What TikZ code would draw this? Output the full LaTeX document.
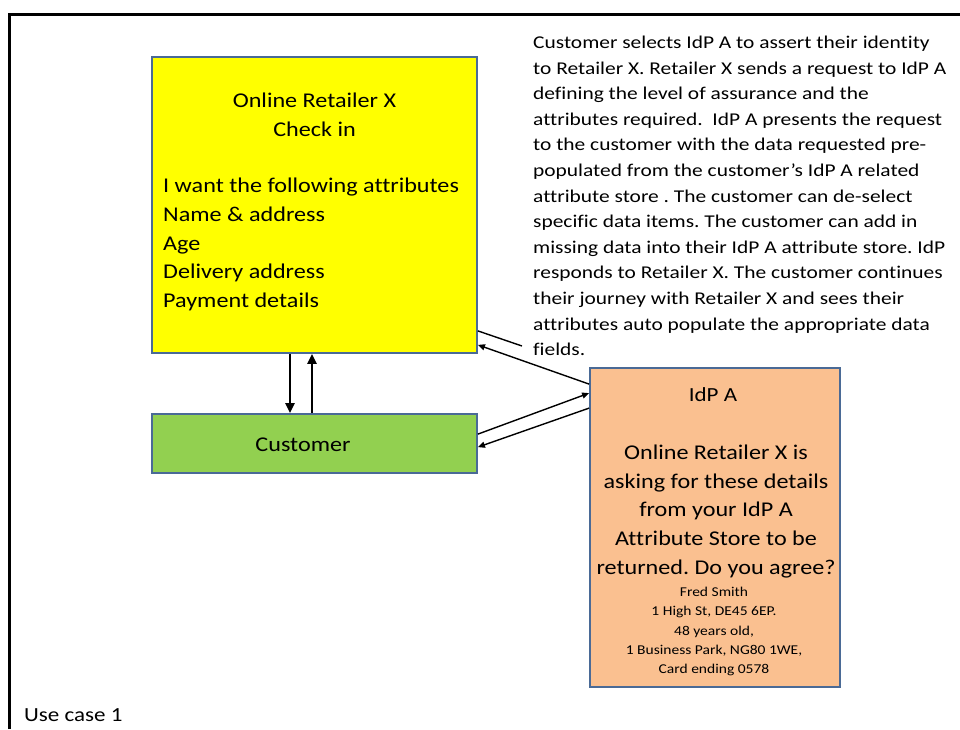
\documentclass[tikz,border=0pt]{standalone}
\usepackage{fontspec}
\setmainfont{Carlito}[FakeStretch=1.15,Ligatures={TeX,NoCommon}]
\newfontfamily\descfont{Carlito}[FakeStretch=1.19,Ligatures={TeX,NoCommon}]
\usetikzlibrary{arrows.meta,calc}
\definecolor{boxline}{HTML}{4A6A96}
\definecolor{ylw}{HTML}{FFFF00}
\definecolor{grn}{HTML}{92D050}
\definecolor{org}{HTML}{FAC090}
\frenchspacing
\begin{document}
\begin{tikzpicture}[x=1pt,y=-1pt,
  box/.style={draw=boxline, line width=1.8pt, inner sep=0pt},
  bigtxt/.style={font=\fontsize{21}{28.8}\selectfont, inner sep=0pt},
  arr/.style={-{Triangle[length=7pt,width=6pt]}, line width=1.4pt},
  varr/.style={-{Triangle[length=10pt,width=9pt]}, line width=2.4pt}]
\useasboundingbox (0,0) rectangle (960,729);
\fill[white] (0,0) rectangle (960,729);
\draw[line width=3pt] (9.5,729) -- (9.5,14.5) -- (960,14.5);
% boxes
\node[box, fill=ylw, minimum width=325pt, minimum height=296pt] (ret) at (314.5,205) {};
\node[box, fill=grn, minimum width=325pt, minimum height=59pt] (cust) at (314.5,443.5) {};
\node[box, fill=org, minimum width=250pt, minimum height=319pt] (idp) at (715,527.5) {};
% texts
\node[bigtxt, align=center] (rett) at (314.5,114.5) {Online Retailer X\\Check in};
\node[bigtxt, align=left, anchor=west] (retl) at (163,244.5) {I want the following attributes\\Name \& address\\Age\\Delivery address\\Payment details};
\node[bigtxt] (custt) at (303,445) {Customer};
\node[font=\fontsize{20}{24}\selectfont, inner sep=0pt] (idpt) at (713,395) {IdP A};
\node[bigtxt, align=center] (idpq) at (716,511.5) {Online Retailer X is\\asking for these details\\from your IdP A\\Attribute Store to be\\returned. Do you agree?};
\node[font=\fontsize{13.5}{19.2}\selectfont, inner sep=0pt, align=center] (idpd) at (714,631.5) {Fred Smith\\1 High St, DE45 6EP.\\48 years old,\\1 Business Park, NG80 1WE,\\Card ending 0578};
\node[font=\descfont\fontsize{18}{25.6}\selectfont, inner sep=0pt, align=left, anchor=west] (desc) at (533,196) {Customer selects IdP A to assert their identity\\to Retailer X. Retailer X sends a request to IdP A\\defining the level of assurance and the\\attributes required.\ \ IdP A presents the request\\to the customer with the data requested pre-\\populated from the customer’s IdP A related\\attribute store . The customer can de-select\\specific data items. The customer can add in\\missing data into their IdP A attribute store. IdP\\responds to Retailer X. The customer continues\\their journey with Retailer X and sees their\\attributes auto populate the appropriate data\\fields.};
\node[font=\fontsize{20}{24}\selectfont, inner sep=0pt, anchor=west] (uc) at (24,715) {Use case 1};
% connectors
\draw[varr] ([xshift=-24.5pt]ret.south) -- ([xshift=-24.5pt]cust.north);
\draw[varr] ([xshift=-2.5pt]cust.north) -- ([xshift=-2.5pt]ret.south);
\coordinate (lineend) at (522,346);
\draw[line width=1.4pt] ([yshift=23pt]ret.south east) -- (lineend);
\draw[arr] ([yshift=-17pt]idp.north west) -- ([yshift=9pt]ret.south east);
\draw[arr] ([yshift=-21pt]cust.north east) -- ([yshift=-26pt]idp.north west);
\draw[arr] ([yshift=-41pt]idp.north west) -- ([yshift=-34pt]cust.north east);
\end{tikzpicture}
\end{document}
